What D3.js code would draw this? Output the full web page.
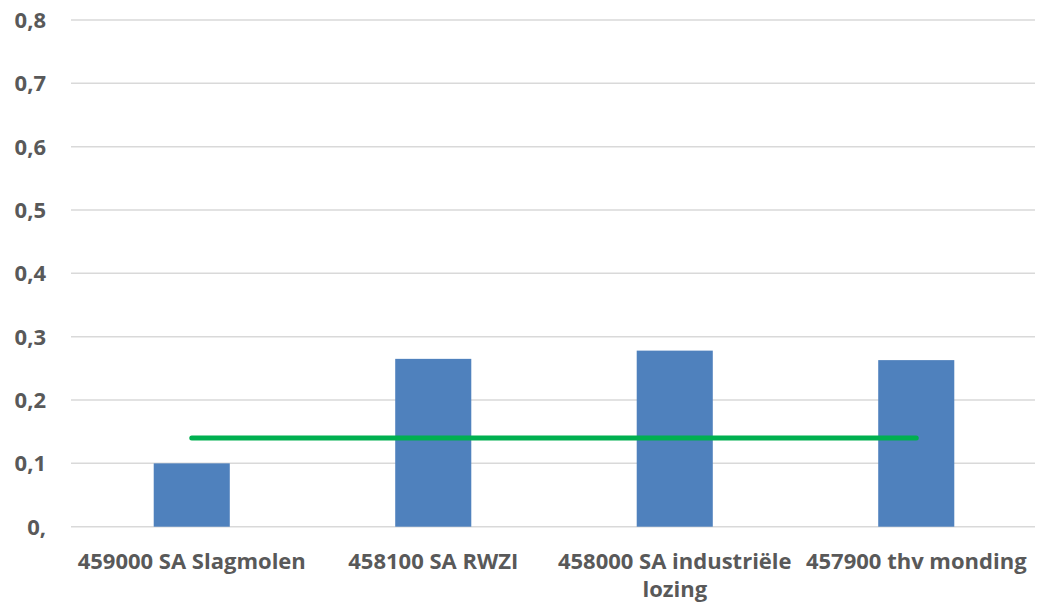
<!DOCTYPE html>
<html><head><meta charset="utf-8">
<script src="https://cdn.jsdelivr.net/npm/d3@7"></script>
<style>body{margin:0;background:#fff;}svg{display:block;}</style>
</head><body>
<svg id="c" width="1037" height="606"></svg>
<script>
const categories = ["459000 SA Slagmolen", "458100 SA RWZI", "458000 SA industriële lozing", "457900 thv monding"];
const categoryLines = [["459000 SA Slagmolen"], ["458100 SA RWZI"], ["458000 SA industriële", "lozing"], ["457900 thv monding"]];
const values = [0.1, 0.265, 0.278, 0.263];
const norm = [0.14, 0.14, 0.14, 0.14];
const yTicks = [0, 0.1, 0.2, 0.3, 0.4, 0.5, 0.6, 0.7, 0.8];
const yTickLabels = ["0,", "0,1", "0,2", "0,3", "0,4", "0,5", "0,6", "0,7", "0,8"];

(function () {
const svg = d3.select("#c");
const pLeft = 71, pRight = 1037, pTop = 20, pBottom = 526.7;
const font = "'Open Sans', sans-serif";
const fs = 22;
const x = d3.scaleBand().domain(categories).range([pLeft, pRight]).paddingInner(0.685).paddingOuter(0.3425);
const y = d3.scaleLinear().domain([0, 0.8]).range([pBottom, pTop]);

// gridlines
svg.append("g").selectAll("line").data(yTicks).join("line")
  .attr("x1", pLeft).attr("x2", 1035)
  .attr("y1", d => y(d)).attr("y2", d => y(d))
  .attr("stroke", "#d9d9d9").attr("stroke-width", 1.5);

// y labels
svg.append("g").selectAll("text").data(yTicks).join("text")
  .attr("x", 46).attr("y", d => y(d) + 8)
  .attr("text-anchor", "end")
  .attr("font-family", font).attr("font-weight", "bold").attr("font-size", fs)
  .attr("fill", "#595959")
  .text((d, i) => yTickLabels[i]);

// bars
svg.append("g").selectAll("rect").data(values).join("rect")
  .attr("x", (d, i) => x(categories[i]))
  .attr("width", x.bandwidth())
  .attr("y", d => y(d))
  .attr("height", d => y(0) - y(d))
  .attr("fill", "#4f81bd");

// norm line
const line = d3.line().x((d, i) => x(categories[i]) + x.bandwidth() / 2).y(d => y(d));
svg.append("path").datum(norm).attr("d", line)
  .attr("fill", "none").attr("stroke", "#00b050").attr("stroke-width", 5)
  .attr("stroke-linecap", "round");

// x labels
const xl = svg.append("g").selectAll("text").data(categoryLines).join("text")
  .attr("text-anchor", "middle")
  .attr("font-family", font).attr("font-weight", "bold").attr("font-size", fs)
  .attr("fill", "#595959")
  .attr("transform", (d, i) => `translate(${x(categories[i]) + x.bandwidth() / 2},569)`);
xl.selectAll("tspan").data(d => d).join("tspan")
  .attr("x", 0).attr("dy", (d, j) => j === 0 ? 0 : 28)
  .text(d => d);
})();
</script>
</body></html>
